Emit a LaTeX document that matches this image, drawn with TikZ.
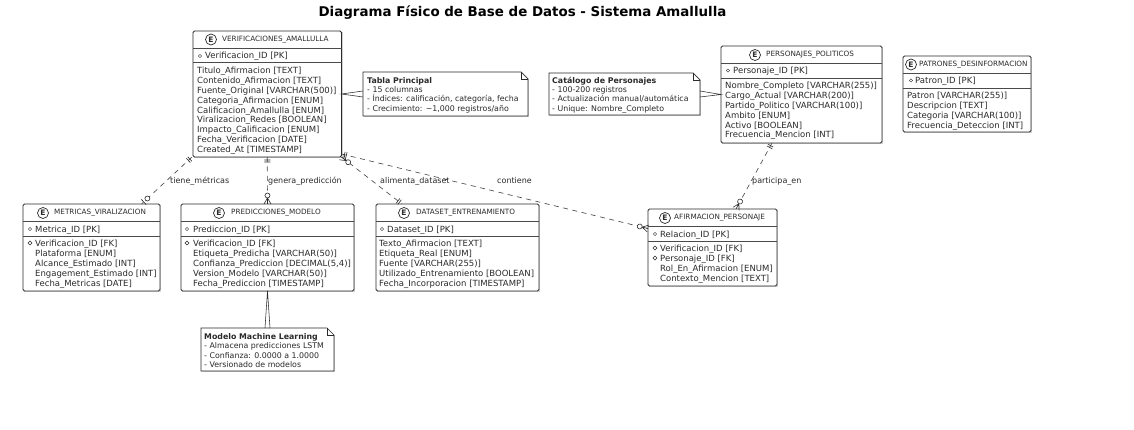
\documentclass[tikz,border=0pt]{standalone}
\usepackage{fontspec}
\setmainfont{DejaVu Sans}
\usetikzlibrary{fit,decorations.markings}
\definecolor{ink}{HTML}{2A2A2A}
\newcommand{\entity}[7]{% name x1 y1 x2 y2 line1 line2
  \draw[shadowline] (#2+1,#5+.8) -- (#4+.8,#5+.8) -- (#4+.8,#3+1);
  \node[entbox,fit={(#2,#3)(#4,#5)}] (#1) {};
  \draw[sepline] (#2,#6) -- (#4,#6);
  \draw[sepline] (#2,#7) -- (#4,#7);
}
\newcommand{\enthead}[6]{% name ex ey tx title(y=ey)
  \node[ecircle] (#1-e) at (#2,#3) {E};
  \node[enttitle] (#1-title) at (#4,#3) {#5};
}
\newcommand{\pkmark}[2]{\draw[ink,line width=.4pt] (#1,#2) circle (1.6);}
\newcommand{\fkmark}[2]{\draw[ink,line width=.4pt] (#1-2,#2) -- (#1,#2-2) -- (#1+2,#2) -- (#1,#2+2) -- cycle;}
\newcommand{\rowstrut}{\rule[-2.5pt]{0pt}{10.7pt}}
\newcommand{\notebox}[5]{% name x1 y1 x2 y2
  \draw[shadowline] (#2+1,#5+.8) -- (#4+.8,#5+.8) -- (#4+.8,#3+7);
  \node[notefit,fit={(#2,#3)(#4,#5)}] (#1) {};
  \draw[noteline,fill=white] (#1.north west) -- ([xshift=-7pt]#1.north east) -- ([yshift=-7pt]#1.north east) -- (#1.south east) -- (#1.south west) -- cycle;
  \draw[noteline] ([xshift=-7pt]#1.north east) -- ([xshift=-7pt,yshift=-7pt]#1.north east) -- ([yshift=-7pt]#1.north east);
}
\tikzset{
  x=1pt,y=-1pt,
  entbox/.style={draw=ink,line width=.8pt,rounded corners=1.5pt,inner sep=0pt,outer sep=0pt,fill=white},
  notefit/.style={inner sep=0pt,outer sep=0pt},
  noteline/.style={draw=ink,line width=.7pt},
  wedgeline/.style={draw=ink,line width=.55pt},
  sepline/.style={draw=ink!85,line width=.7pt},
  shadowline/.style={draw=black!18,line width=.7pt},
  ecircle/.style={circle,draw=ink,line width=.7pt,fill=white,inner sep=0pt,minimum size=11pt,font=\fontsize{7.5}{8}\selectfont\bfseries,text=ink},
  enttitle/.style={anchor=west,inner sep=0pt,font=\fontsize{7.25}{8}\selectfont,text=ink},
  rows/.style={anchor=north west,inner sep=0pt,align=left,text=ink,font=\fontsize{8.5}{9.92}\selectfont},
  noterows/.style={anchor=north west,inner sep=0pt,align=left,text=ink,font=\fontsize{7.85}{9.3}\selectfont},
  linklabel/.style={anchor=west,inner sep=0pt,text=ink,font=\fontsize{8}{9}\selectfont},
  link/.style={draw=ink!85,line width=.65pt,dash pattern=on 5pt off 4.5pt,postaction={decorate}},
  barscirccrow/.style={decoration={markings,
    mark=at position 3pt with {\draw[ink,solid,line width=.6pt] (0,-3)--(0,3);},
    mark=at position 5pt with {\draw[ink,solid,line width=.6pt] (0,-3)--(0,3);},
    mark=at position -6pt with {\draw[ink,solid,line width=.6pt] (0,0)--(6,-3.5) (0,0)--(6,3.5) (0,0)--(6,0);
      \draw[ink,solid,line width=.6pt,fill=white] (-2.5,0) circle (2.5);}}},
  barscircbar/.style={decoration={markings,
    mark=at position 3pt with {\draw[ink,solid,line width=.6pt] (0,-3)--(0,3);},
    mark=at position 5pt with {\draw[ink,solid,line width=.6pt] (0,-3)--(0,3);},
    mark=at position -3pt with {\draw[ink,solid,line width=.6pt] (0,-3.5)--(0,3.5);},
    mark=at position -8pt with {\draw[ink,solid,line width=.6pt,fill=white] (0,0) circle (2.5);}}},
  circcrowbars/.style={decoration={markings,
    mark=at position 6pt with {\draw[ink,solid,line width=.6pt] (0,0)--(-6,-3.5) (0,0)--(-6,3.5) (0,0)--(-6,0);
      \draw[ink,solid,line width=.6pt,fill=white] (2.5,0) circle (2.5);},
    mark=at position -3pt with {\draw[ink,solid,line width=.6pt] (0,-3)--(0,3);},
    mark=at position -5pt with {\draw[ink,solid,line width=.6pt] (0,-3)--(0,3);}}},
}
\begin{document}
\begin{tikzpicture}
\useasboundingbox[fill=white] (0,0) rectangle (1134,430);

\node[anchor=center,inner sep=0pt,text=black,font=\fontsize{13.4}{16}\selectfont\bfseries] (title) at (522.5,12.5) {Diagrama Físico de Base de Datos - Sistema Amallulla};

% VERIFICACIONES
\entity{verif}{193}{31}{341.5}{157}{48}{62}
\enthead{verif}{211}{39.5}{222}{VERIFICACIONES\_AMALLULLA}{}
\pkmark{200}{56}
\node[rows] (verif-pk) at (205,50.5) {\rowstrut Verificacion\_ID [PK]};
\node[rows] (verif-rows) at (197,65) {\rowstrut Titulo\_Afirmacion [TEXT]\\Contenido\_Afirmacion [TEXT]\\Fuente\_Original [VARCHAR(500)]\\Categoria\_Afirmacion [ENUM]\\Calificacion\_Amallulla [ENUM]\\Viralizacion\_Redes [BOOLEAN]\\Impacto\_Calificacion [ENUM]\\Fecha\_Verificacion [DATE]\\Created\_At [TIMESTAMP]};

% METRICAS
\entity{metr}{23}{204}{160}{291}{221}{236}
\enthead{metr}{43}{213}{54}{METRICAS\_VIRALIZACION}{}
\pkmark{30}{229}
\node[rows] (metr-pk) at (35,224) {\rowstrut Metrica\_ID [PK]};
\fkmark{30}{243}
\node[rows] (metr-rows) at (35,238) {\rowstrut Verificacion\_ID [FK]\\Plataforma [ENUM]\\Alcance\_Estimado [INT]\\Engagement\_Estimado [INT]\\Fecha\_Metricas [DATE]};

% PREDICCIONES
\entity{pred}{181}{204}{354}{291}{221}{236}
\enthead{pred}{219}{213}{231}{PREDICCIONES\_MODELO}{}
\pkmark{187}{229}
\node[rows] (pred-pk) at (193,224) {\rowstrut Prediccion\_ID [PK]};
\fkmark{187}{243}
\node[rows] (pred-rows) at (193,238) {\rowstrut Verificacion\_ID [FK]\\Etiqueta\_Predicha [VARCHAR(50)]\\Confianza\_Prediccion [DECIMAL(5,4)]\\Version\_Modelo [VARCHAR(50)]\\Fecha\_Prediccion [TIMESTAMP]};

% DATASET
\entity{data}{376}{204}{539}{291}{221}{236}
\enthead{data}{404}{213}{416}{DATASET\_ENTRENAMIENTO}{}
\pkmark{382}{229}
\node[rows] (data-pk) at (387,224) {\rowstrut Dataset\_ID [PK]};
\node[rows] (data-rows) at (379,238) {\rowstrut Texto\_Afirmacion [TEXT]\\Etiqueta\_Real [ENUM]\\Fuente [VARCHAR(255)]\\Utilizado\_Entrenamiento [BOOLEAN]\\Fecha\_Incorporacion [TIMESTAMP]};

% AFIRMACION
\entity{afir}{648}{209}{777}{286}{226}{241}
\enthead{afir}{665}{218}{674}{AFIRMACION\_PERSONAJE}{}
\pkmark{655}{234}
\node[rows] (afir-pk) at (660,229) {\rowstrut Relacion\_ID [PK]};
\fkmark{655}{248}
\fkmark{655}{258}
\node[rows] (afir-rows) at (660,243) {\rowstrut Verificacion\_ID [FK]\\Personaje\_ID [FK]\\Rol\_En\_Afirmacion [ENUM]\\Contexto\_Mencion [TEXT]};

% PERSONAJES
\entity{pers}{721}{46}{882}{143}{63}{78}
\enthead{pers}{755}{55}{766}{PERSONAJES\_POLITICOS}{}
\pkmark{728}{70.5}
\node[rows] (pers-pk) at (733,65.5) {\rowstrut Personaje\_ID [PK]};
\node[rows] (pers-rows) at (725,80) {\rowstrut Nombre\_Completo [VARCHAR(255)]\\Cargo\_Actual [VARCHAR(200)]\\Partido\_Politico [VARCHAR(100)]\\Ambito [ENUM]\\Activo [BOOLEAN]\\Frecuencia\_Mencion [INT]};

% PATRONES
\entity{patr}{903}{56}{1031}{132}{73}{88}
\enthead{patr}{911}{64.5}{919}{PATRONES\_DESINFORMACION}{}
\pkmark{911}{80.5}
\node[rows] (patr-pk) at (915,75.5) {\rowstrut Patron\_ID [PK]};
\node[rows] (patr-rows) at (907,90.5) {\rowstrut Patron [VARCHAR(255)]\\Descripcion [TEXT]\\Categoria [VARCHAR(100)]\\Frecuencia\_Deteccion [INT]};

% NOTES
\notebox{note1}{363}{72}{528}{116}
\node[noterows] (note1-text) at (367,75) {\rowstrut\textbf{Tabla Principal}\\- 15 columnas\\- Índices: calificación, categoría, fecha\\- Crecimiento: \textasciitilde 1,000 registros/año};
\notebox{note2}{549}{73}{700}{115}
\node[noterows] (note2-text) at (552,75) {\rowstrut\textbf{Catálogo de Personajes}\\- 100-200 registros\\- Actualización manual/automática\\- Unique: Nombre\_Completo};
\notebox{note3}{201}{328}{334}{371}
\node[noterows] (note3-text) at (204,331) {\rowstrut\textbf{Modelo Machine Learning}\\- Almacena predicciones LSTM\\- Confianza: 0.0000 a 1.0000\\- Versionado de modelos};

% note wedges
\draw[wedgeline] ([yshift=3pt]note1.west) -- (verif.east) -- ([yshift=-3pt]note1.west);
\draw[wedgeline] ([yshift=3pt]note2.east) -- (pers.west) -- ([yshift=-3pt]note2.east);
\draw[wedgeline] ([xshift=-2.5pt]note3.north) -- (pred.south) -- ([xshift=2.5pt]note3.north);

% links
\draw[link,barscircbar] ([xshift=-1pt]verif.south west) -- ([xshift=50pt]metr.north);
\draw[link,barscirccrow] (verif.south) -- (pred.north);
\draw[link,circcrowbars] (verif.south east) -- ([xshift=-55.5pt]data.north);
\draw[link,barscirccrow] ([yshift=3pt]verif.south east) -- ([yshift=19pt]afir.west);
\draw[link,barscirccrow] ([xshift=-29.5pt]pers.south) -- ([xshift=23.5pt]afir.north);

% link labels
\node[linklabel] (l1) at (170,181) {tiene\_métricas};
\node[linklabel] (l2) at (268,181) {genera\_predicción};
\node[linklabel] (l3) at (380,181) {alimenta\_dataset};
\node[linklabel] (l4) at (497,181) {contiene};
\node[linklabel] (l5) at (752,181) {participa\_en};
\end{tikzpicture}
\end{document}
